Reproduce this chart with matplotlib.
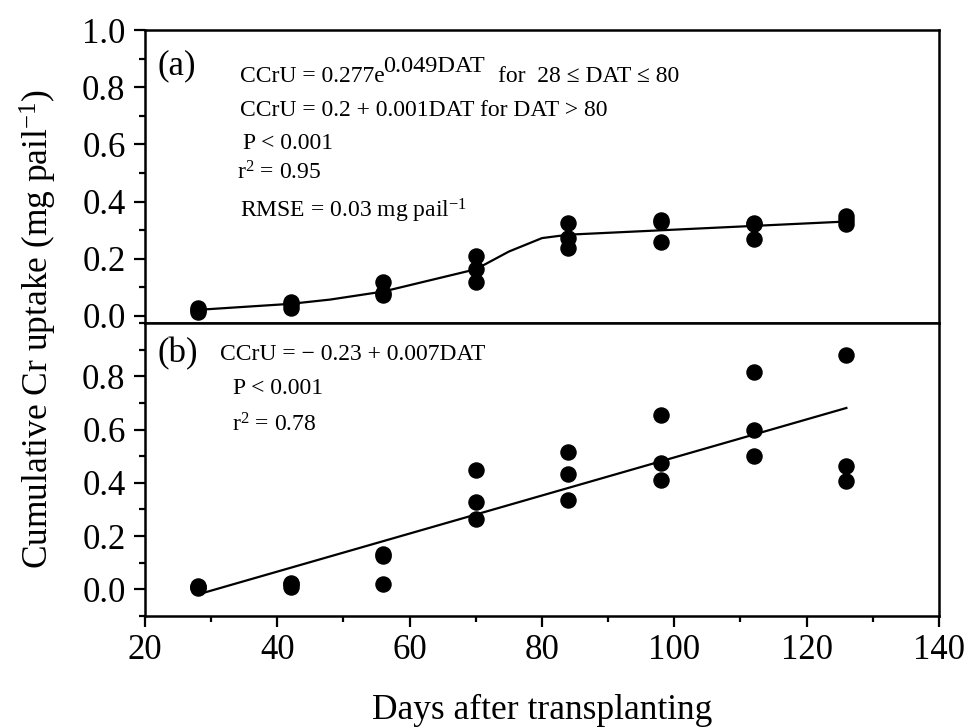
import numpy as np
import matplotlib.pyplot as plt
from matplotlib.ticker import MultipleLocator

plt.rcParams['font.family'] = ['Liberation Serif', 'DejaVu Serif']
plt.rcParams['mathtext.fontset'] = 'custom'
plt.rcParams['mathtext.rm'] = 'Liberation Serif'
plt.rcParams['mathtext.it'] = 'Liberation Serif:italic'
plt.rcParams['mathtext.default'] = 'rm'

# days after transplanting, three replicates per sampling date
dat = [28, 42, 56, 70, 84, 98, 112, 126]

# (a) cumulative Cr uptake
cr_a = [
    [0.015, 0.022, 0.028],
    [0.027, 0.040, 0.050],
    [0.073, 0.080, 0.120],
    [0.120, 0.163, 0.210],
    [0.237, 0.272, 0.326],
    [0.260, 0.330, 0.335],
    [0.268, 0.320, 0.326],
    [0.320, 0.335, 0.350],
]
fit_a_x = [28, 42, 48, 56, 63, 70, 75, 80, 84, 126]
fit_a_y = [0.021, 0.042, 0.057, 0.085, 0.124, 0.163, 0.225, 0.272, 0.284, 0.330]

# (b) cumulative Cr uptake
cr_b = [
    [0.005, 0.010, 0.012],
    [0.010, 0.020, 0.025],
    [0.019, 0.125, 0.132],
    [0.266, 0.329, 0.447],
    [0.334, 0.434, 0.516],
    [0.412, 0.475, 0.655],
    [0.500, 0.600, 0.816],
    [0.406, 0.462, 0.881],
]
fit_b_x = [28, 126]
fit_b_y = [-0.019, 0.681]

fig = plt.figure(figsize=(9.7, 7.27), dpi=100)
W, H = 970, 727
L, R = 145, 939
ax_a = fig.add_axes([L / W, 1 - 323 / H, (R - L) / W, 293 / H])
ax_b = fig.add_axes([L / W, 1 - 616 / H, (R - L) / W, 293 / H])

def scatter_reps(ax, vals):
    xs = np.repeat(dat, [len(v) for v in vals])
    ys = np.concatenate(vals)
    ax.scatter(xs, ys, s=118, color='black', zorder=3, clip_on=False)

scatter_reps(ax_a, cr_a)
ax_a.plot(fit_a_x, fit_a_y, color='black', lw=1.6, zorder=2)
scatter_reps(ax_b, cr_b)
ax_b.plot(fit_b_x, fit_b_y, color='black', lw=1.6, zorder=2)

for ax in (ax_a, ax_b):
    ax.set_xlim(20, 140)
    for s in ax.spines.values():
        s.set_linewidth(1.8)
    ax.yaxis.set_minor_locator(MultipleLocator(0.1))
    ax.tick_params(axis='y', which='major', direction='out', length=8,
                   width=1.6, labelsize=25, pad=6)
    ax.tick_params(axis='y', which='minor', direction='out', length=4.5, width=1.6)

ax_a.set_ylim(-0.025, 1.0)
ax_a.set_yticks(np.arange(0, 1.01, 0.2))
ax_a.set_yticklabels([f'{v:.1f}' for v in np.arange(0, 1.01, 0.2)])
ax_a.tick_params(axis='x', which='both', bottom=False, labelbottom=False)

ax_b.set_ylim(-0.1, 1.0)
ax_b.set_yticks(np.arange(0, 0.81, 0.2))
ax_b.set_yticklabels([f'{v:.1f}' for v in np.arange(0, 0.81, 0.2)])
ax_b.yaxis.set_minor_locator(MultipleLocator(0.1))
ax_b.set_xticks(range(20, 141, 20))
ax_b.xaxis.set_minor_locator(MultipleLocator(10))
ax_b.tick_params(axis='x', which='major', direction='out', length=8,
                 width=1.6, labelsize=25, pad=5)
ax_b.tick_params(axis='x', which='minor', direction='out', length=4.5, width=1.6)

# annotations placed by pixel position inside each panel
def ta(ax, x_px, y_px, s, size=17, bottom=323):
    ax.text((x_px - L) / (R - L), (bottom - y_px) / 293, s, transform=ax.transAxes,
            fontsize=size, va='baseline', ha='left')

ta(ax_a, 158, 74, '(a)', size=25)
ta(ax_a, 240, 82, 'CCrU = 0.277e')
ta(ax_a, 383, 72, '0.049DAT', size=17.5)
ta(ax_a, 498, 82, 'for  28 \u2264 DAT \u2264 80')
ta(ax_a, 240, 116, 'CCrU = 0.2 + 0.001DAT for DAT > 80')
ta(ax_a, 243, 149, 'P < 0.001')
ta(ax_a, 237, 179, 'r$^{2}$ = 0.95')
ta(ax_a, 240, 217, 'RMSE = 0.03 mg pail$^{-1}$')

ta(ax_b, 158, 362, '(b)', size=25, bottom=616)
ta(ax_b, 220, 360, 'CCrU = \u2212 0.23 + 0.007DAT', bottom=616)
ta(ax_b, 233, 394, 'P < 0.001', bottom=616)
ta(ax_b, 232, 431, 'r$^{2}$ = 0.78', bottom=616)

fig.text(38 / W, 1 - 329 / H, 'Cumulative Cr uptake (mg pail$^{-1}$)',
         rotation=90, fontsize=25.5, ha='center', va='center')
fig.text(542 / W, 1 - 719 / H, 'Days after transplanting',
         fontsize=25.5, ha='center', va='baseline')

fig.savefig('out.png', dpi=100)
